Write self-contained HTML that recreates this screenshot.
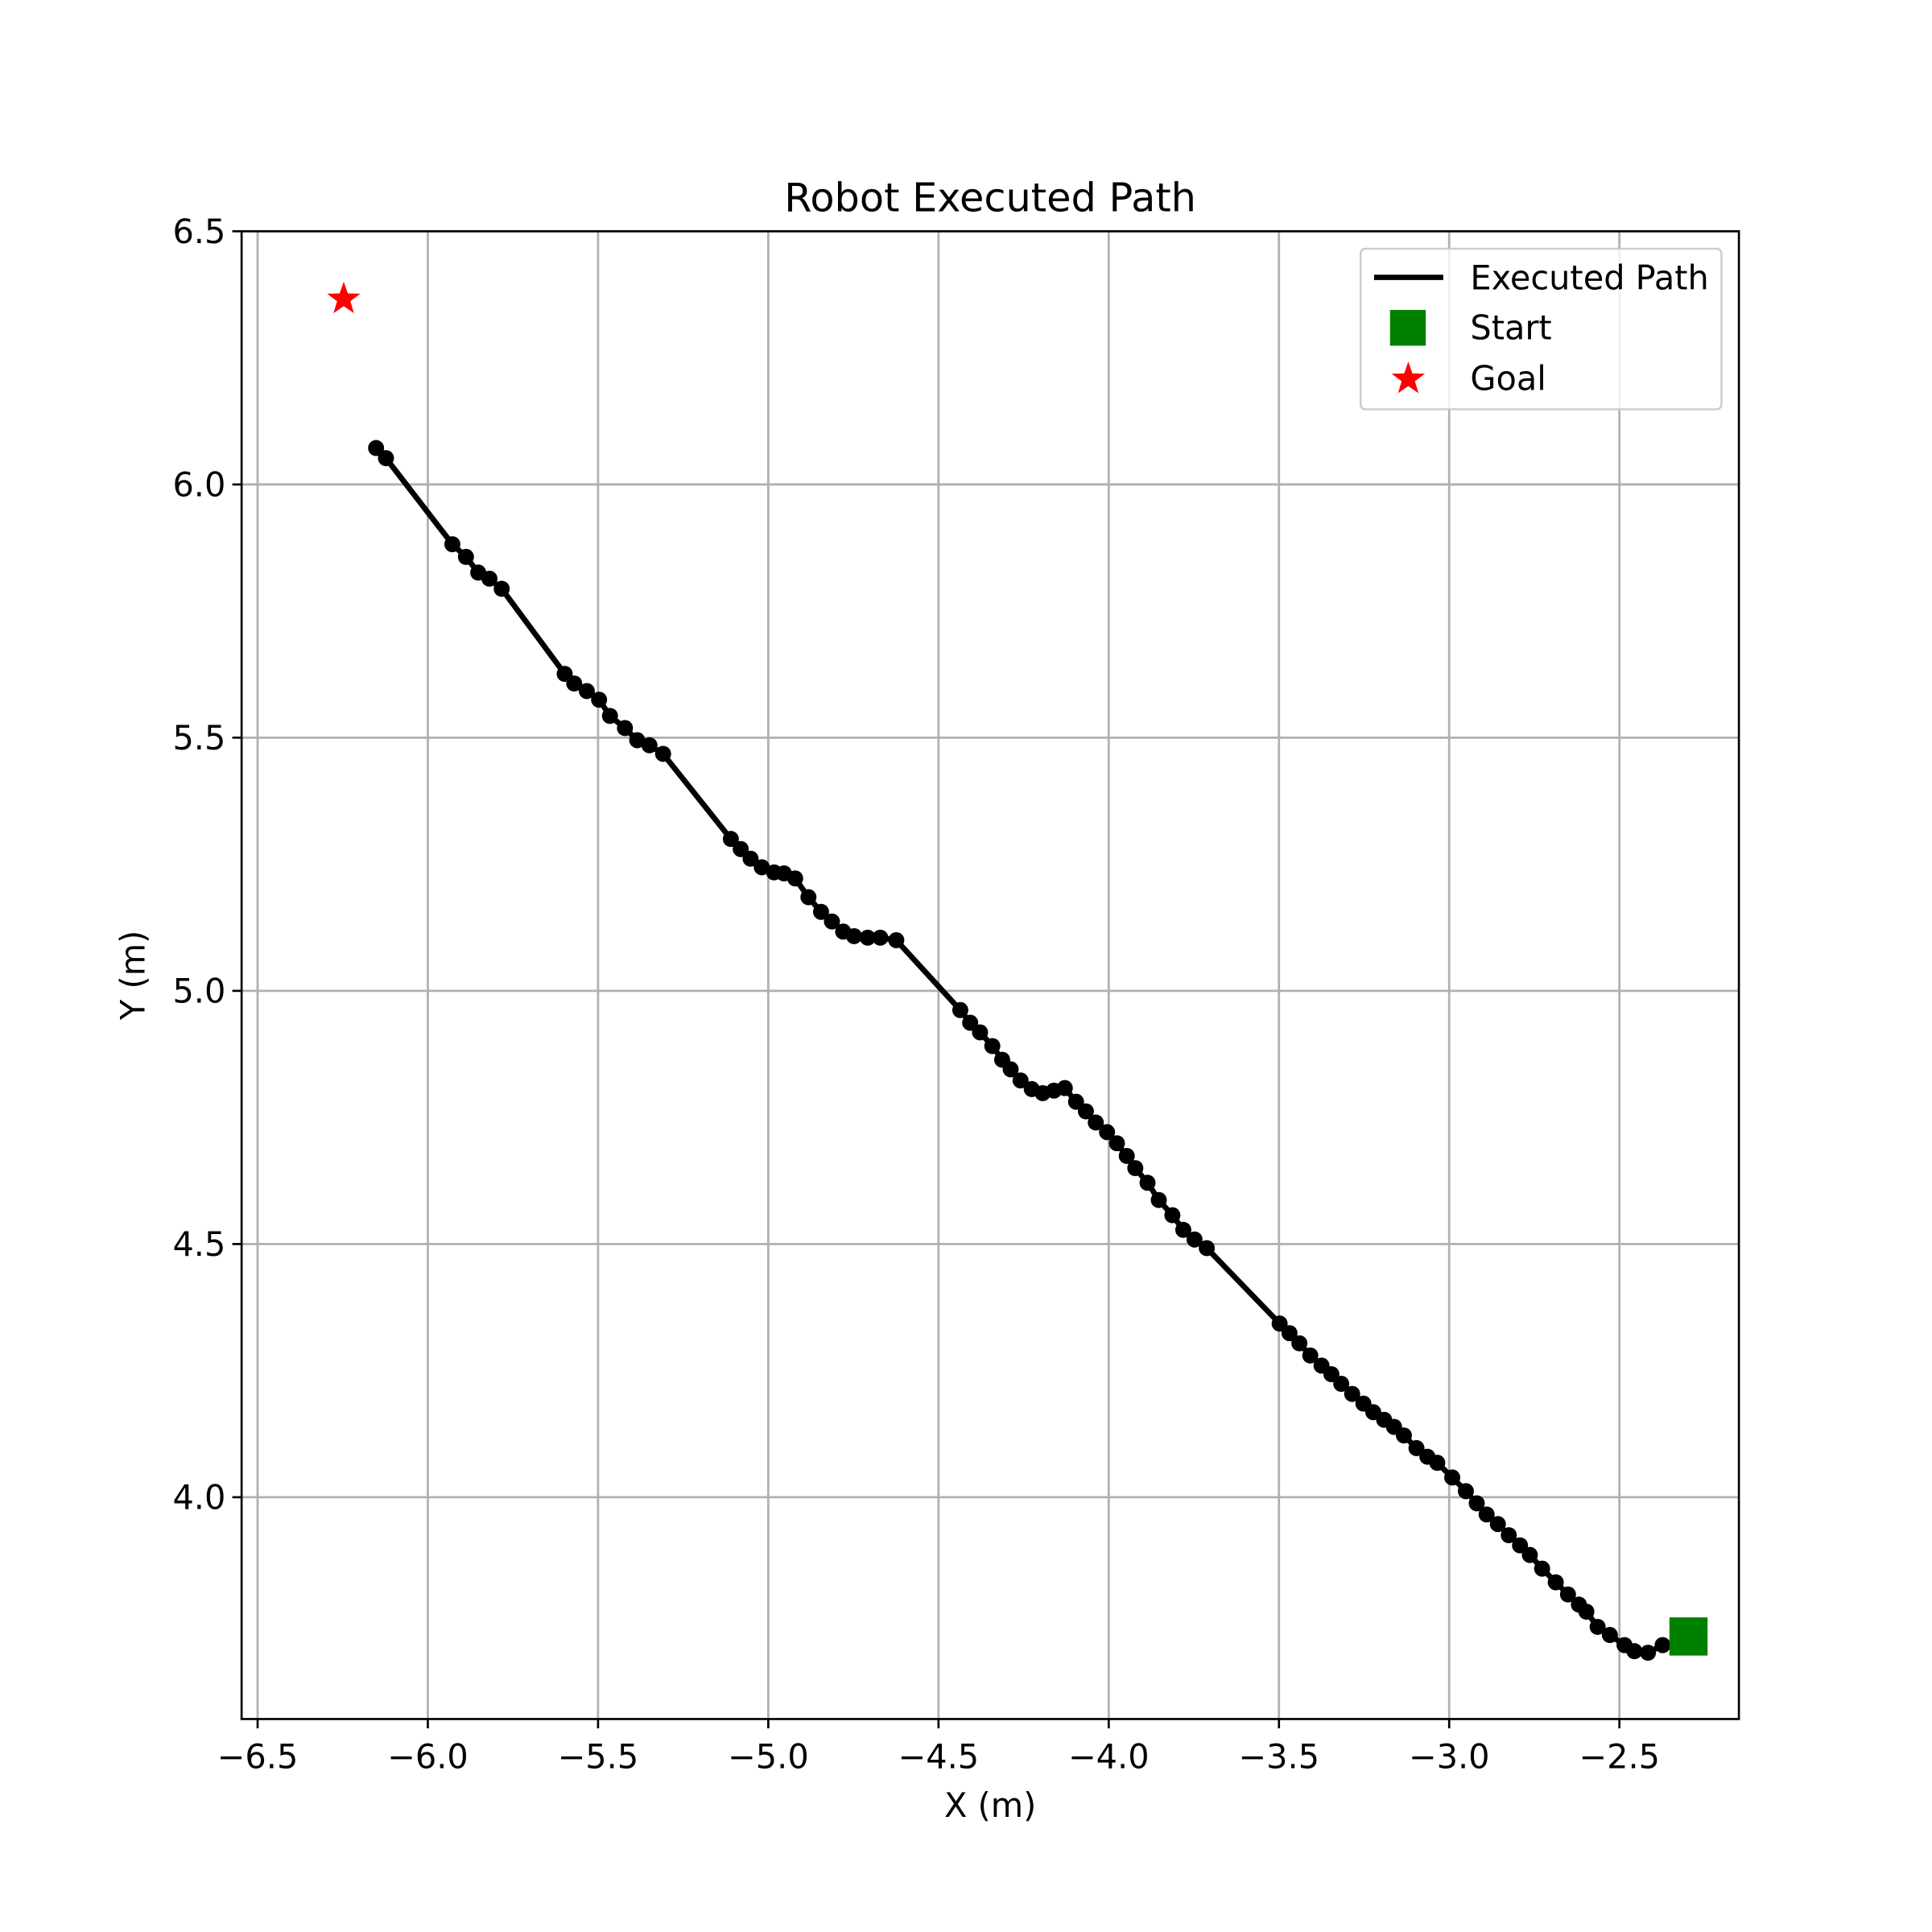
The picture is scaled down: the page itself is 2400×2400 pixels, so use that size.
<!DOCTYPE html>
<html><head><meta charset="utf-8"><style>
html,body{margin:0;padding:0;background:#fff}
svg{display:block;font-family:"DejaVu Sans","Liberation Sans",sans-serif}
</style></head><body>
<svg id="chart" width="2400" height="2400" viewBox="0 0 2400 2400" xmlns="http://www.w3.org/2000/svg">
<rect width="2400" height="2400" fill="#fff"/>
<g transform="scale(0.98726)">
<g id="grid"></g>
<g id="path"></g>
<g id="marks"></g>
<g id="axes"></g>
<text x="1246" y="266" font-size="50" text-anchor="middle">Robot Executed Path</text>
<text x="1246" y="2286" font-size="42" text-anchor="middle">X (m)</text>
<text transform="translate(182,1227) rotate(-90)" font-size="42" text-anchor="middle">Y (m)</text>
<g>
<rect x="1712" y="313" width="454" height="202" rx="6" fill="#fff" fill-opacity="0.8" stroke="#ccc" stroke-width="2.5"/>
<g><line x1="1729" y1="349" x2="1816" y2="349" stroke="#000" stroke-width="6.7"/><text x="1850" y="364" font-size="42">Executed Path</text></g>
<g><rect x="1749" y="390" width="45" height="45" fill="#008000"/><text x="1850" y="427" font-size="42">Start</text></g>
<g><polygon id="legstar" fill="#ff0000"/><text x="1850" y="491" font-size="42">Goal</text></g>
</g>
</g>
</svg>
<script>
const xs = [-6.152,-6.123,-5.928,-5.888,-5.852,-5.819,-5.783,-5.598,-5.570,-5.533,-5.497,-5.465,-5.421,-5.385,-5.349,-5.309,-5.110,-5.081,-5.052,-5.019,-4.983,-4.954,-4.921,-4.882,-4.845,-4.813,-4.780,-4.748,-4.708,-4.671,-4.624,-4.436,-4.407,-4.378,-4.342,-4.313,-4.288,-4.259,-4.226,-4.194,-4.161,-4.129,-4.096,-4.067,-4.038,-4.005,-3.976,-3.947,-3.922,-3.886,-3.853,-3.813,-3.781,-3.748,-3.712,-3.498,-3.469,-3.440,-3.408,-3.375,-3.346,-3.317,-3.285,-3.252,-3.223,-3.191,-3.162,-3.133,-3.096,-3.064,-3.035,-2.991,-2.951,-2.919,-2.890,-2.857,-2.825,-2.792,-2.763,-2.727,-2.687,-2.651,-2.619,-2.597,-2.564,-2.528,-2.485,-2.456,-2.416,-2.373];
const ys = [6.072,6.052,5.882,5.857,5.826,5.814,5.794,5.626,5.607,5.592,5.575,5.543,5.519,5.495,5.485,5.468,5.300,5.280,5.261,5.244,5.234,5.232,5.222,5.185,5.156,5.137,5.117,5.108,5.105,5.105,5.100,4.962,4.937,4.918,4.891,4.864,4.845,4.823,4.806,4.798,4.803,4.808,4.781,4.762,4.740,4.721,4.699,4.674,4.650,4.621,4.587,4.557,4.528,4.509,4.492,4.343,4.324,4.304,4.280,4.260,4.243,4.224,4.204,4.185,4.168,4.153,4.139,4.122,4.097,4.080,4.068,4.039,4.012,3.988,3.966,3.947,3.925,3.905,3.886,3.859,3.832,3.808,3.788,3.774,3.744,3.728,3.708,3.696,3.693,3.708];
const startPt = [-2.297, 3.725];
const goalPt = [-6.247, 6.366];
const xTicks = [-6.5,-6.0,-5.5,-5.0,-4.5,-4.0,-3.5,-3.0,-2.5];
const yTicks = [4.0,4.5,5.0,5.5,6.0,6.5];
const xTickLabels = ["\u22126.5","\u22126.0","\u22125.5","\u22125.0","\u22124.5","\u22124.0","\u22123.5","\u22123.0","\u22122.5"];
const yTickLabels = ["4.0","4.5","5.0","5.5","6.0","6.5"];

const L=304,R=2188,T=291,B=2163;
const xmin=-6.547,xmax=-2.149,ymin=3.562,ymax=6.5;
const X=v=>L+(v-xmin)/(xmax-xmin)*(R-L);
const Y=v=>B-(v-ymin)/(ymax-ymin)*(B-T);
const NS="http://www.w3.org/2000/svg";
function mk(tag,parent,attrs){const e=document.createElementNS(NS,tag);for(const k in attrs)e.setAttribute(k,attrs[k]);parent.appendChild(e);return e;}
const grid=document.getElementById('grid'),axes=document.getElementById('axes');
xTicks.forEach((t,i)=>{
  const g=mk('line',grid,{x1:X(t),x2:X(t),y1:T,y2:B,stroke:'#b0b0b0','stroke-width':2.8});
  
  
  const tk=mk('line',axes,{x1:X(t),x2:X(t),y1:B,y2:B+11.7,stroke:'#000','stroke-width':2.7});
  
  
  const tl=mk('text',axes,{x:X(t),y:B+62,'font-size':42,'text-anchor':'middle'});
  tl.textContent=xTickLabels[i];
  
  
});
yTicks.forEach((t,i)=>{
  const g=mk('line',grid,{x1:L,x2:R,y1:Y(t),y2:Y(t),stroke:'#b0b0b0','stroke-width':2.8});
  
  
  const tk=mk('line',axes,{x1:L-11.7,x2:L,y1:Y(t),y2:Y(t),stroke:'#000','stroke-width':2.7});
  
  
  const tl=mk('text',axes,{x:L-20,y:Y(t)+15,'font-size':42,'text-anchor':'end'});
  tl.textContent=yTickLabels[i];
  
  
});
const frame=mk('rect',axes,{x:L,y:T,width:R-L,height:B-T,fill:'none',stroke:'#000','stroke-width':2.7});


const pathG=document.getElementById('path');
const pl=mk('polyline',pathG,{points:xs.map((x,i)=>X(x)+','+Y(ys[i])).join(' '),fill:'none',stroke:'#000','stroke-width':7,'stroke-linejoin':'round'});


xs.forEach((x,i)=>{
  const c=mk('circle',pathG,{cx:X(x),cy:Y(ys[i]),r:10.1,fill:'#000'});
  
  
});
function star(cx,cy,r){const p=[];for(let i=0;i<10;i++){const a=-Math.PI/2+i*Math.PI/5;const rr=i%2?r*0.4:r;p.push((cx+rr*Math.cos(a))+','+(cy+rr*Math.sin(a)));}return p.join(' ');}
const marks=document.getElementById('marks');
const sq=mk('rect',marks,{x:X(startPt[0])-24,y:Y(startPt[1])-24,width:48,height:48,fill:'#008000'});


const gs=mk('polygon',marks,{points:star(X(goalPt[0]),Y(goalPt[1]),22),fill:'#ff0000'});


document.getElementById('legstar').setAttribute('points',star(1772,477,22));
</script>
</body></html>
